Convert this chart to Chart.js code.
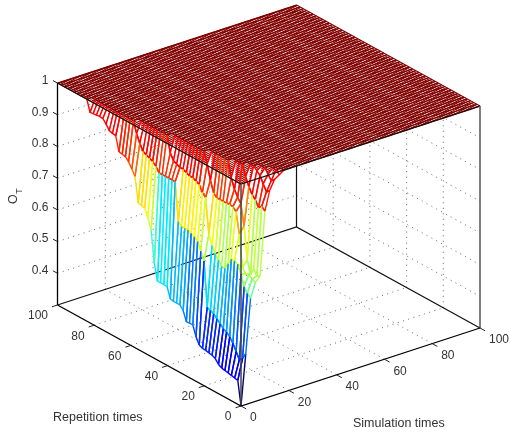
<!DOCTYPE html>
<html>
<head>
<meta charset="utf-8">
<script src="https://cdn.jsdelivr.net/npm/chart.js@4"></script>
<style>
  body { margin: 0; background: #fff; }
  canvas { display: block; }
</style>
</head>
<body>
<canvas id="chart" width="509" height="437"></canvas>
<script>
// tick labels
const simTicks = [0, 20, 40, 60, 80, 100];
const repTicks = [0, 20, 40, 60, 80, 100];
const zTicks = [0.4, 0.5, 0.6, 0.7, 0.8, 0.9, 1];

// O_T, one list per simulation column (sims 0,2,4...),
// one value per mesh row (reps 0,1.75,3.5...)
// everything past the end of a list sits on the plateau at 1
const zSim0 = [.30,.375,.377,.38,.382,.384,.386,.392,.405,.41,.412,.414,.415,.42,.44,.472,.472,.471,.50,.513,.513,.513,.515,.548,.549,.549,.548,.60,.70,.73,.757,.76,.762,.84,.858,.875,.886,.888,.89,.935,.937,.94,.955,.967,.968,.967,.966,.964];
const zSim2 = [.46,.44,.43,.45,.47,.485,.495,.50,.51,.52,.53,.535,.54,.68,.705,.73,.74,.745,.75,.75,.75,.76,.88,.88,.88,.88,.88,.88,.895,.905,.91,.915,.92,.94,.965];
const zSim4 = [.63,.64,.655,.69,.715,.72,.72,.70,.68,.68,.695,.71,.73,.76,.87,.88,.90,.905,.91,.91,.915,.92,.92,.925,.93,.95];
const zSim6 = [.675,.68,.69,.685,.70,.80,.865,.875,.877,.875,.875,.875,.875,.885,.92,.965];
const zSim8 = [.69,.685,.70,.68,.72,.82,.885,.90,.92,.95];
const zSim10 = [.89,.90,.89,.91,.92,.94,.965];
const zSim12 = [.95,.94,.96,.98,.99];
const zSim14 = [.98,.97,.985];
const zSim16 = [.99];
const columns = [zSim0, zSim2, zSim4, zSim6, zSim8, zSim10, zSim12, zSim14, zSim16];

const zMin = 0.3, zMax = 1;
const simStep = 2, repStep = 1.75;
const rowCount = 58;

function zAt(col, row) {
  const list = columns[col];
  if (!list) return 1;
  const v = list[row];
  return v === undefined ? 1 : v;
}

// fixed view of the 3d box, gives values for the x and y scales
function proj(s, r, z) {
  return {
    x: 241 + 2.39 * s - 1.835 * r,
    y: 406 - 0.78 * s - 1.01 * r - (z - zMin) * 317,
    z: z
  };
}

function jet(z) {
  let t = Math.min(1, Math.max(0, (z - zMin) / (zMax - zMin)));
  // the mesh stays pure red right up to the plateau, only 1 itself is dark
  if (z < 1) t = Math.min(t, 0.875);
  const ch = v => Math.round(255 * Math.min(1, Math.max(0, v)));
  return `rgb(${ch(1.5 - Math.abs(4 * t - 3))},${ch(1.5 - Math.abs(4 * t - 2))},${ch(1.5 - Math.abs(4 * t - 1))})`;
}

function lineSet(points, color, width, dash) {
  return {
    data: points,
    showLine: true,
    fill: false,
    borderColor: color,
    borderWidth: width,
    borderDash: dash || [],
    pointRadius: 0
  };
}

const paint = [];   // in drawing order, flipped at the end
const dots = [1, 4.5];
const dotColor = '#666';

// dotted grid on the walls and floor
zTicks.forEach(z => {
  paint.push(lineSet([proj(0, 100, z), proj(100, 100, z)], dotColor, 1, dots));
  paint.push(lineSet([proj(100, 100, z), proj(100, 0, z)], dotColor, 1, dots));
});
simTicks.slice(1, 5).forEach(s => {
  paint.push(lineSet([proj(s, 100, zMin), proj(s, 100, zMax)], dotColor, 1, dots));
  paint.push(lineSet([proj(s, 0, zMin), proj(s, 100, zMin)], dotColor, 1, dots));
});
repTicks.slice(1, 5).forEach(r => {
  paint.push(lineSet([proj(100, r, zMin), proj(100, r, zMax)], dotColor, 1, dots));
  paint.push(lineSet([proj(0, r, zMin), proj(100, r, zMin)], dotColor, 1, dots));
});

// back edges of the box
paint.push(lineSet([proj(0, 100, zMin), proj(100, 100, zMin), proj(100, 0, zMin)], '#111', 1.2));
paint.push(lineSet([proj(100, 100, zMin), proj(100, 100, zMax)], '#111', 1.2));

// plateau: white sheet then the mesh lines on it
const meshWidth = 1.4;
paint.push({
  data: [proj(0, 0, 1), proj(100, 0, 1), proj(100, 100, 1), proj(0, 100, 1), proj(0, 0, 1)],
  showLine: true,
  fill: 'shape',
  backgroundColor: '#fff',
  borderWidth: 0,
  pointRadius: 0
});
for (let row = 0; row < rowCount; row++) {
  const along = [];
  for (let col = 0; col <= 100 / simStep; col++) {
    if (zAt(col, row) === 1) along.push(proj(col * simStep, row * repStep, 1));
  }
  paint.push(lineSet(along, jet(1), 1.4));
}
paint.push(lineSet([proj(0, 100, 1), proj(100, 100, 1)], jet(1), 1.4));
// sims every 1 on the flat part, the dip drawn later covers what falls inside it
for (let k = 0; k <= 100; k++) {
  paint.push(lineSet([proj(k, 0, 1), proj(k, 100, 1)], jet(1), 1.1));
}

// the dip, cell by cell from back to front so nearer cells hide farther ones
for (let col = columns.length - 1; col >= 0; col--) {
  for (let row = rowCount - 2; row >= 0; row--) {
    const a = zAt(col, row), b = zAt(col + 1, row), c = zAt(col + 1, row + 1), d = zAt(col, row + 1);
    if (Math.min(a, b, c, d) === 1) continue;
    const s0 = col * simStep, s1 = s0 + simStep, r0 = row * repStep, r1 = r0 + repStep;
    const edges = [a, b, d, a, a];
    paint.push({
      data: [proj(s0, r0, a), proj(s1, r0, b), proj(s1, r1, c), proj(s0, r1, d), proj(s0, r0, a)],
      showLine: true,
      fill: 'shape',
      backgroundColor: '#fff',
      borderWidth: meshWidth,
      pointRadius: 0,
      segment: { borderColor: ctx => jet(edges[ctx.p0DataIndex]) }
    });
  }
}

// box edges in front of the surface
paint.push(lineSet([proj(0, 100, zMax), proj(0, 0, zMax), proj(100, 0, zMax)], '#111', 1.1));
paint.push(lineSet([proj(0, 0, zMin), proj(0, 0, zMax)], '#444', 1.5));
paint.push(lineSet([proj(100, 0, zMin), proj(100, 0, zMax)], '#555', 1.5));
paint.push(lineSet([proj(0, 100, zMin), proj(0, 100, zMax)], '#000', 1.3));
paint.push(lineSet([proj(0, 100, zMin), proj(0, 0, zMin), proj(100, 0, zMin)], '#000', 1.3));

// tick marks
repTicks.forEach(r => paint.push(lineSet([proj(0, r, zMin), proj(-2.3, r, zMin)], '#222', 1)));
simTicks.forEach(s => paint.push(lineSet([proj(s, 0, zMin), proj(s, -2.8, zMin)], '#222', 1)));
zTicks.forEach(z => paint.push(lineSet([proj(0, 100, z), proj(0, 102.5, z)], '#222', 1)));

const textPlugin = {
  id: 'boxText',
  afterDraw(chart) {
    const { ctx, scales } = chart;
    const put = (label, p, dx, dy, align) => {
      ctx.textAlign = align;
      ctx.fillText(label, scales.x.getPixelForValue(p.x) + dx, scales.y.getPixelForValue(p.y) + dy);
    };
    ctx.save();
    ctx.fillStyle = '#333';
    ctx.textBaseline = 'middle';
    ctx.font = '12px "Liberation Sans"';
    repTicks.forEach(r => put(String(r), proj(0, r, zMin), -9.5, 11, 'right'));
    simTicks.forEach(s => put(String(s), proj(s, 0, zMin), 9, 12, 'left'));
    zTicks.forEach(z => put(String(z), proj(0, 100, z), -9, -2.5, 'right'));
    ctx.font = '12.5px "Liberation Sans"';
    ctx.textAlign = 'left';
    ctx.fillText('Repetition times', 53, 418);
    ctx.fillText('Simulation times', 353, 424);
    ctx.translate(17.5, 204);
    ctx.rotate(-Math.PI / 2);
    ctx.fillText('O', 0, -4);
    ctx.font = '9.5px "Liberation Sans"';
    ctx.fillText('T', 10, 1.5);
    ctx.restore();
  }
};

new Chart(document.getElementById('chart'), {
  type: 'scatter',
  data: { datasets: paint.slice().reverse() },
  plugins: [textPlugin],
  options: {
    responsive: false,
    animation: false,
    events: [],
    layout: { padding: 0 },
    plugins: { legend: { display: false }, tooltip: { enabled: false } },
    scales: {
      x: { type: 'linear', min: 0, max: 509, display: false },
      y: { type: 'linear', min: 0, max: 437, reverse: true, display: false }
    }
  }
});
</script>
</body>
</html>
